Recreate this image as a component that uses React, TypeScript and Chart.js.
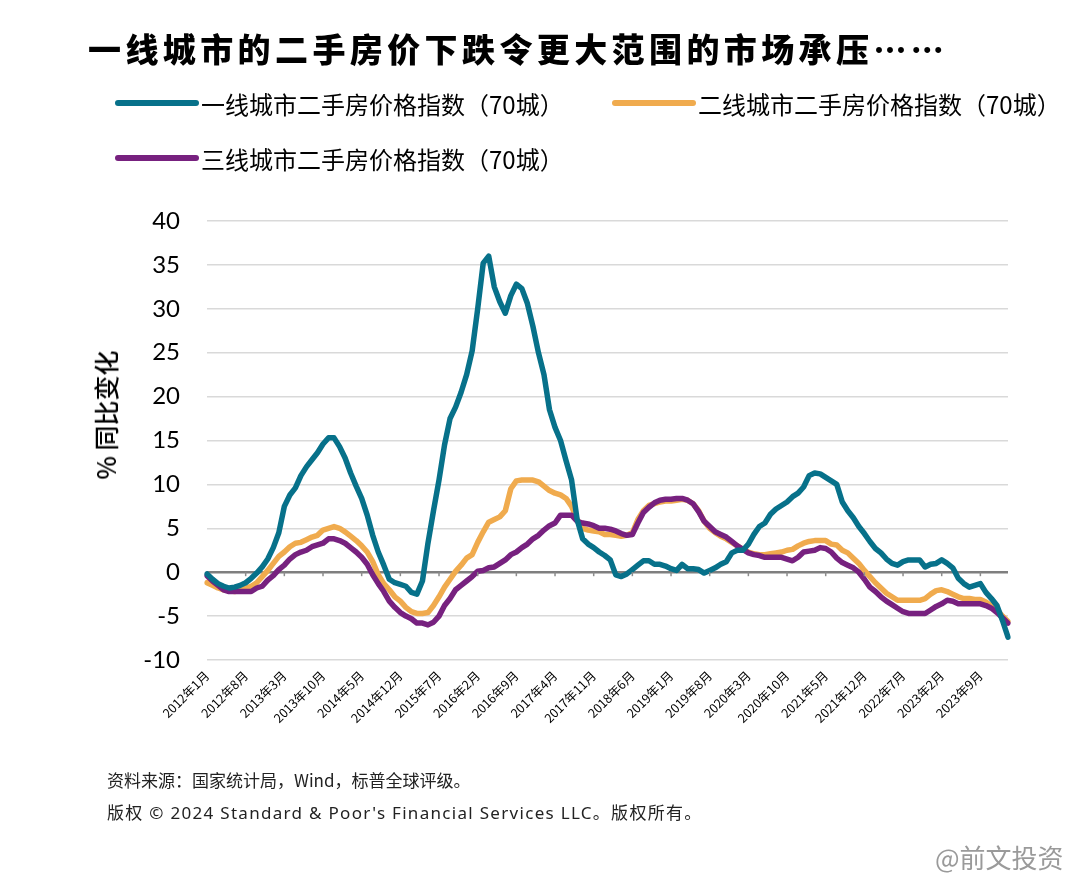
import React, { useEffect, useRef } from "react";
import { Chart, registerables } from "chart.js";

Chart.register(...registerables);

const startYear = 2012;
const monthCount = 146;
const categories: string[] = [];
for (let i = 0; i < monthCount; i++) {
  const y = startYear + Math.floor(i / 12);
  const m = (i % 12) + 1;
  categories.push(`${y}年${m}月`);
}
const labelStep = 7;

const tier1: number[] = [
  -0.2, -0.8, -1.3, -1.6, -1.8, -1.7, -1.5, -1.2, -0.7, -0.1,
  0.6, 1.5, 2.8, 4.5, 7.5, 8.8, 9.6, 11.0, 12.0, 12.8,
  13.6, 14.6, 15.3, 15.3, 14.3, 13.0, 11.3, 9.8, 8.4, 6.5,
  4.2, 2.3, 0.8, -0.8, -1.2, -1.4, -1.6, -2.3, -2.5, -1.0,
  3.3, 7.0, 10.5, 14.5, 17.5, 18.8, 20.5, 22.5, 25.2, 30.0,
  35.2, 36.0, 32.5, 30.8, 29.5, 31.5, 32.8, 32.3, 30.6, 28.0,
  25.0, 22.5, 18.5, 16.5, 15.0, 12.7, 10.5, 6.0, 3.8, 3.2,
  2.8, 2.3, 1.9, 1.4, -0.3, -0.5, -0.2, 0.3, 0.8, 1.3,
  1.3, 0.9, 0.9, 0.7, 0.4, 0.2, 0.9, 0.4, 0.4, 0.3,
  -0.1, 0.2, 0.5, 0.9, 1.2, 2.2, 2.5, 2.5, 3.2, 4.3,
  5.2, 5.6, 6.6, 7.2, 7.6, 8.0, 8.6, 9.0, 9.7, 11.0,
  11.3, 11.2, 10.8, 10.4, 10.0, 8.0, 7.0, 6.2, 5.2, 4.4,
  3.5, 2.7, 2.2, 1.5, 1.0, 0.8, 1.2, 1.4, 1.4, 1.4,
  0.6, 0.9, 1.0, 1.4, 1.0, 0.5, -0.7, -1.3, -1.7, -1.5,
  -1.3, -2.3, -3.0, -3.8, -5.5, -7.4,
];

const tier2: number[] = [
  -1.2, -1.5, -1.8, -2.0, -2.1, -2.2, -2.0, -1.8, -1.6, -1.2,
  -0.5, 0.2, 1.0, 1.8, 2.3, 2.9, 3.3, 3.4, 3.7, 4.0,
  4.2, 4.8, 5.0, 5.2, 5.0, 4.6, 4.1, 3.6, 3.0, 2.3,
  1.2, -0.3, -1.3, -2.0, -2.8, -3.3, -4.0, -4.5, -4.7, -4.7,
  -4.6, -3.8, -2.8, -1.7, -0.8, 0.1, 0.8, 1.6, 2.0, 3.4,
  4.6, 5.7, 6.0, 6.3, 7.0, 9.5, 10.4, 10.5, 10.5, 10.5,
  10.3, 9.8, 9.3, 9.0, 8.8, 8.4, 7.5, 6.0, 5.0, 4.8,
  4.7, 4.6, 4.3, 4.3, 4.2, 4.1, 4.2, 4.5, 6.0, 7.0,
  7.6, 7.8, 8.0, 8.1, 8.1, 8.2, 8.3, 8.2, 7.8, 7.0,
  5.8, 5.0, 4.5, 4.1, 3.8, 3.4, 3.0, 2.6, 2.3, 2.1,
  2.0, 2.0, 2.1, 2.2, 2.3, 2.5, 2.6, 3.0, 3.3, 3.5,
  3.6, 3.6, 3.6, 3.2, 3.1, 2.5, 2.2, 1.6, 1.0, 0.2,
  -0.5, -1.2, -1.8, -2.4, -2.8, -3.2, -3.2, -3.2, -3.2, -3.2,
  -3.0, -2.5, -2.1, -2.0, -2.2, -2.5, -2.8, -3.0, -3.0, -3.1,
  -3.1, -3.4, -3.8, -4.3, -5.0, -5.6,
];

const tier3: number[] = [
  -0.4, -1.0, -1.5, -2.0, -2.2, -2.2, -2.2, -2.2, -2.2, -1.8,
  -1.6, -0.9, -0.4, 0.3, 0.8, 1.5, 2.0, 2.3, 2.5, 2.9,
  3.1, 3.3, 3.8, 3.8, 3.6, 3.3, 2.8, 2.3, 1.7, 0.9,
  -0.3, -1.3, -2.2, -3.3, -4.0, -4.6, -5.0, -5.3, -5.8, -5.8,
  -6.0, -5.7, -5.0, -3.8, -3.0, -2.0, -1.5, -1.0, -0.5, 0.1,
  0.2, 0.5, 0.6, 1.0, 1.4, 2.0, 2.3, 2.8, 3.2, 3.8,
  4.2, 4.8, 5.3, 5.6, 6.5, 6.5, 6.5, 5.8, 5.6, 5.5,
  5.3, 5.0, 5.0, 4.9, 4.7, 4.4, 4.2, 4.3, 5.6, 6.8,
  7.4, 7.9, 8.2, 8.3, 8.3, 8.4, 8.4, 8.2, 7.8, 6.9,
  5.8, 5.2, 4.6, 4.3, 4.0, 3.5, 3.0, 2.6, 2.2, 2.0,
  1.9, 1.7, 1.7, 1.7, 1.7, 1.5, 1.3, 1.7, 2.3, 2.4,
  2.5, 2.8, 2.7, 2.3, 1.6, 1.1, 0.8, 0.5, 0.0, -0.8,
  -1.7, -2.2, -2.8, -3.3, -3.7, -4.1, -4.5, -4.7, -4.7, -4.7,
  -4.7, -4.3, -3.9, -3.6, -3.2, -3.3, -3.6, -3.6, -3.6, -3.6,
  -3.6, -3.8, -4.1, -4.6, -5.2, -5.8,
];

const seriesNames = [
  "一线城市二手房价格指数（70城）",
  "二线城市二手房价格指数（70城）",
  "三线城市二手房价格指数（70城）",
];
const seriesColors = ["#07718A", "#F0AB4E", "#77217F"];

const yMin = -10;
const yMax = 40;
const yStep = 5;

const titleText = "一线城市的二手房价下跌令更大范围的市场承压……";
const yTitle = "% 同比变化";
const source1 = "资料来源：国家统计局，Wind，标普全球评级。";
const source2 = "版权 © 2024 Standard & Poor's Financial Services LLC。版权所有。";
const watermark = "@前文投资";

const CJK = '"Noto Sans CJK SC", "Noto Sans", sans-serif';

export default function App() {
  const canvasRef = useRef<HTMLCanvasElement | null>(null);

  useEffect(() => {
    document.body.style.margin = "0";
    const canvas = canvasRef.current;
    if (!canvas) return;

    const tickMarks = {
      id: "zeroTicks",
      afterDatasetsDraw(chart: any) {
        const { ctx } = chart;
        const x = chart.scales.x;
        const y = chart.scales.y;
        const y0 = y.getPixelForValue(0);
        ctx.save();
        ctx.strokeStyle = "#8c8c8c";
        ctx.lineWidth = 1.5;
        for (let i = labelStep; i < categories.length; i += labelStep) {
          const px = x.getPixelForValue(i);
          ctx.beginPath();
          ctx.moveTo(px, y0);
          ctx.lineTo(px, y0 + 4);
          ctx.stroke();
        }
        ctx.restore();
      },
    };

    const chart = new Chart(canvas, {
      type: "line",
      data: {
        labels: categories,
        datasets: [
          { label: seriesNames[0], data: tier1, borderColor: seriesColors[0], order: 0 },
          { label: seriesNames[1], data: tier2, borderColor: seriesColors[1], order: 2 },
          { label: seriesNames[2], data: tier3, borderColor: seriesColors[2], order: 1 },
        ],
      },
      options: {
        animation: false,
        responsive: false,
        maintainAspectRatio: false,
        layout: { padding: { left: 87, right: 76, top: 221, bottom: 119 } },
        plugins: {
          legend: { display: false },
          title: { display: false },
          tooltip: { enabled: false },
        },
        elements: {
          point: { radius: 0 },
          line: { tension: 0, borderWidth: 5.5, borderCapStyle: "round", borderJoinStyle: "round" },
        },
        scales: {
          x: {
            type: "category",
            offset: false,
            grid: { display: false, drawTicks: false },
            border: { display: false },
            ticks: {
              autoSkip: false,
              maxRotation: 45,
              minRotation: 45,
              padding: 8,
              color: "#000",
              font: { size: 12.5, family: CJK },
              callback: (_v: any, i: number) => (i % labelStep === 0 ? categories[i] : ""),
            },
            afterFit: (s: any) => {
              s.height = 100;
            },
          },
          y: {
            min: yMin,
            max: yMax,
            ticks: {
              stepSize: yStep,
              padding: 27,
              color: "#000",
              font: { size: 24, family: "Lato, 'Open Sans', sans-serif" },
            },
            grid: {
              drawTicks: false,
              color: (c: any) => (c.tick && c.tick.value === 0 ? "#7f7f7f" : "#d9d9d9"),
              lineWidth: (c: any) => (c.tick && c.tick.value === 0 ? 2.5 : 1.5),
            },
            border: { display: false },
            afterFit: (s: any) => {
              s.width = 120;
            },
          },
        },
      },
      plugins: [tickMarks],
    } as any);

    return () => chart.destroy();
  }, []);

  const legendItem = (i: number, left: number, top: number) => (
    <div style={{ position: "absolute", left, top, display: "flex", alignItems: "center", height: 30 }}>
      <div style={{ width: 84, height: 6, borderRadius: 3, background: seriesColors[i] }} />
      <span style={{ fontFamily: CJK, fontSize: 24, color: "#000", marginLeft: 2, whiteSpace: "nowrap" }}>
        {seriesNames[i]}
      </span>
    </div>
  );

  return (
    <div style={{ position: "relative", width: 1084, height: 879, background: "#fff", overflow: "hidden" }}>
      <canvas ref={canvasRef} width={1084} height={879} style={{ position: "absolute", left: 0, top: 0 }} />
      <div
        style={{
          position: "absolute",
          left: 88,
          top: 24,
          fontFamily: CJK,
          fontWeight: 900,
          fontSize: 33,
          letterSpacing: 4.4,
          color: "#000",
          whiteSpace: "nowrap",
        }}
      >
        {titleText}
      </div>
      {legendItem(0, 115, 88)}
      {legendItem(1, 612, 88)}
      {legendItem(2, 115, 143)}
      <div
        style={{
          position: "absolute",
          left: 105,
          top: 415,
          transform: "translate(-50%, -50%) rotate(-90deg)",
          fontFamily: CJK,
          fontSize: 25,
          fontWeight: 500,
          color: "#000",
          whiteSpace: "nowrap",
        }}
      >
        {yTitle}
      </div>
      <div style={{ position: "absolute", left: 107, top: 767, fontFamily: CJK, fontSize: 17, color: "#222", whiteSpace: "nowrap" }}>
        {source1}
      </div>
      <div
        style={{
          position: "absolute",
          left: 107,
          top: 799,
          fontFamily: '"Noto Sans", "Noto Sans CJK SC", sans-serif',
          fontSize: 17,
          letterSpacing: 1.3,
          color: "#222",
          whiteSpace: "nowrap",
        }}
      >
        {source2}
      </div>
      <div
        style={{
          position: "absolute",
          left: 935,
          top: 838,
          fontFamily: CJK,
          fontSize: 26,
          color: "#9a9a9a",
          whiteSpace: "nowrap",
          textShadow: "0 0 2px #fff, 0 0 2px #fff",
        }}
      >
        {watermark}
      </div>
    </div>
  );
}
